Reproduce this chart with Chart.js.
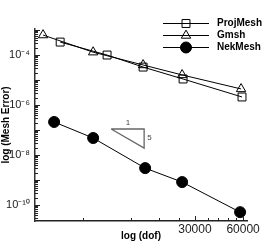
<!DOCTYPE html>
<html>
<head>
<meta charset="utf-8">
<script src="https://cdn.jsdelivr.net/npm/chart.js@4/dist/chart.umd.min.js"></script>
<style>
  html, body { margin: 0; padding: 0; background: #fff; }
  #wrap { width: 273px; height: 246px; }
</style>
</head>
<body>
<div id="wrap"><canvas id="c" width="273" height="246"></canvas></div>
<script>
// values
const projDof = [4310, 8470, 14230, 25300, 59100];
const projErr = [3.3e-4, 1.0e-4, 3.3e-5, 1.1e-5, 2.1e-6];
const gmshDof = [3370, 6930, 14230, 24950, 58300];
const gmshErr = [6.3e-4, 1.3e-4, 4.0e-5, 1.6e-5, 4.4e-6];
const nekDof = [3950, 6930, 14650, 24950, 57500];
const nekErr = [2.1e-7, 4.8e-8, 3.0e-9, 8.3e-10, 5.2e-11];

// slope triangle (data space) and its labels
const slopeDof = [8980, 14440, 14440, 8980];
const slopeErr = [1.1e-7, 1.1e-7, 1.9e-8, 1.1e-7];
const slopeLabels = [
  { text: '1', x: 11460, y: 1.9e-7 },
  { text: '5', x: 15600, y: 4.8e-8 }
];

// axis ticks
const xTicks = [6000, 12000, 18000, 24000, 30000, 36000, 42000, 48000, 54000, 60000];
const xLabels = { 30000: '30000', 60000: '60000' };
const yDecades = [1e-11, 1e-10, 1e-9, 1e-8, 1e-7, 1e-6, 1e-5, 1e-4, 1e-3];
const yLabels = { '-4': '10⁻⁴', '-6': '10⁻⁶', '-8': '10⁻⁸', '-10': '10⁻¹⁰' };

const xMin = 3000, xMax = 63500;
const yMin = 2.3e-11, yMax = 1.1e-3;

const toPts = (xs, ys) => xs.map((x, i) => ({ x, y: ys[i] }));

const series = [
  { label: 'ProjMesh', data: toPts(projDof, projErr), pointStyle: 'rect', pointRadius: 5.6, fill: 'rgba(0,0,0,0)' },
  { label: 'Gmsh', data: toPts(gmshDof, gmshErr), pointStyle: 'triangle', pointRadius: 5.4, fill: 'rgba(0,0,0,0)' },
  { label: 'NekMesh', data: toPts(nekDof, nekErr), pointStyle: 'circle', pointRadius: 5.5, fill: '#000' }
];

const datasets = series.map((s) => ({
  label: s.label,
  data: s.data,
  showLine: true,
  borderColor: '#000',
  borderWidth: 1,
  pointStyle: s.pointStyle,
  pointRadius: s.pointRadius,
  pointBackgroundColor: s.fill,
  pointBorderColor: '#000',
  pointBorderWidth: 1
}));

datasets.push({
  label: 'slope',
  data: toPts(slopeDof, slopeErr),
  showLine: true,
  borderColor: '#666',
  borderWidth: 1.3,
  pointRadius: 0
});

const extras = {
  id: 'extras',
  afterDraw(chart) {
    const ctx = chart.ctx;
    const xs = chart.scales.x;
    const ys = chart.scales.y;
    const area = chart.chartArea;
    ctx.save();
    ctx.strokeStyle = '#222';
    ctx.lineWidth = 1;

    // inward y ticks
    yDecades.forEach((d) => {
      for (let m = 1; m <= 9; m++) {
        const v = d * m;
        if (v < yMin || v > yMax) continue;
        const py = Math.round(ys.getPixelForValue(v)) + 0.5;
        const len = m === 1 ? 5 : 3;
        ctx.beginPath();
        ctx.moveTo(area.left, py);
        ctx.lineTo(area.left + len, py);
        ctx.stroke();
      }
    });

    // inward x ticks
    xTicks.forEach((v) => {
      const px = Math.round(xs.getPixelForValue(v)) + 0.5;
      const len = xLabels[v] ? 5 : 3;
      ctx.beginPath();
      ctx.moveTo(px, area.bottom);
      ctx.lineTo(px, area.bottom - len);
      ctx.stroke();
    });

    // slope labels
    ctx.fillStyle = '#444';
    ctx.font = '8px "Liberation Sans", Arial, sans-serif';
    ctx.textAlign = 'center';
    ctx.textBaseline = 'middle';
    slopeLabels.forEach((l) => {
      ctx.fillText(l.text, xs.getPixelForValue(l.x), ys.getPixelForValue(l.y));
    });

    // legend: line through marker
    const rowY = [23, 35, 47];
    const x0 = 163, x1 = 209, xm = 186, xt = 217;
    ctx.font = 'bold 10px "Liberation Sans", Arial, sans-serif';
    ctx.textAlign = 'left';
    ctx.textBaseline = 'middle';
    series.forEach((s, i) => {
      const y = rowY[i] + 0.5;
      ctx.strokeStyle = '#000';
      ctx.lineWidth = 1;
      ctx.beginPath();
      ctx.moveTo(x0, y);
      ctx.lineTo(x1, y);
      ctx.stroke();
      ctx.fillStyle = s.fill;
      Chart.helpers.drawPoint(ctx, {
        pointStyle: s.pointStyle,
        radius: s.pointRadius,
        rotation: 0,
        borderWidth: 1
      }, xm, y);
      ctx.fillStyle = '#000';
      ctx.fillText(s.label, xt, y);
    });
    ctx.restore();
  }
};

new Chart(document.getElementById('c'), {
  type: 'scatter',
  data: { datasets },
  options: {
    responsive: false,
    animation: false,
    events: [],
    layout: { padding: { top: 29, right: 26, left: 0, bottom: 0 } },
    plugins: { legend: { display: false }, tooltip: { enabled: false } },
    scales: {
      x: {
        type: 'logarithmic',
        min: xMin,
        max: xMax,
        afterBuildTicks(scale) {
          scale.ticks = xTicks.map((v) => ({ value: v }));
        },
        afterFit(scale) { scale.height = 25; },
        grid: { display: false, drawTicks: false },
        border: { display: true, color: '#222', width: 1.5 },
        ticks: {
          autoSkip: false,
          maxRotation: 0,
          padding: 1,
          color: '#222',
          font: { family: '"Liberation Sans", Arial, sans-serif', size: 12 },
          callback(value) { return xLabels[value] || ''; }
        },
        title: {
          display: true,
          text: 'log (dof)',
          color: '#000',
          padding: { top: 0, bottom: 4 },
          font: { family: '"Liberation Sans", Arial, sans-serif', size: 10, weight: 'bold' }
        }
      },
      y: {
        type: 'logarithmic',
        min: yMin,
        max: yMax,
        afterBuildTicks(scale) {
          scale.ticks = yDecades.filter((v) => v >= yMin && v <= yMax).map((v) => ({ value: v }));
        },
        afterFit(scale) { scale.width = 35; },
        grid: { display: false, drawTicks: false },
        border: { display: true, color: '#333', width: 1.5 },
        ticks: {
          autoSkip: false,
          padding: 5,
          color: '#222',
          font: { family: '"Liberation Sans", Arial, sans-serif', size: 11 },
          callback(value) {
            const e = Math.round(Math.log10(value));
            return yLabels[e] || '';
          }
        },
        title: {
          display: true,
          text: 'log (Mesh Error)',
          color: '#000',
          padding: 0,
          font: { family: '"Liberation Sans", Arial, sans-serif', size: 10, weight: 'bold' }
        }
      }
    }
  },
  plugins: [extras]
});
</script>
</body>
</html>
